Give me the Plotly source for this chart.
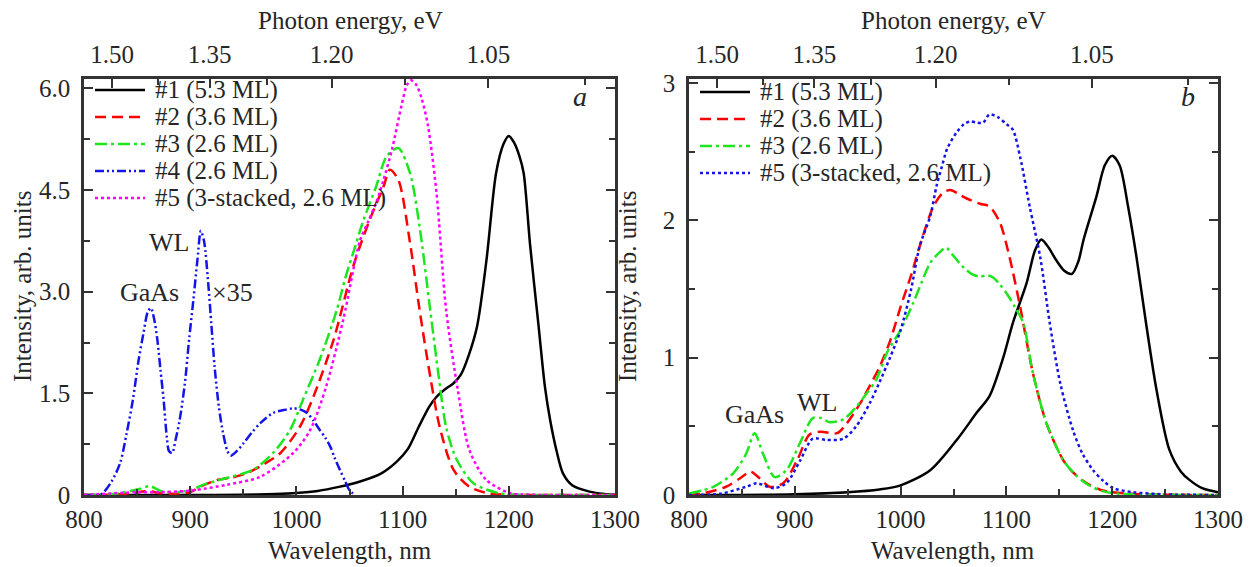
import plotly.graph_objects as go

# ---------------- data: panel a ----------------
a1_wl = [800, 850, 900, 950, 980, 1000, 1020, 1040, 1060, 1080, 1095, 1105, 1115, 1125, 1132, 1140, 1148, 1155,
         1162, 1170, 1179, 1188, 1195, 1200, 1205, 1210, 1214, 1220, 1228, 1234, 1239, 1245, 1251, 1260, 1276, 1290, 1300]
a1_int = [0, 0, 0, 0.005, 0.015, 0.03, 0.06, 0.12, 0.2, 0.32, 0.5, 0.68, 1.0, 1.3, 1.45, 1.56, 1.65, 1.78,
          2.05, 2.48, 3.47, 4.75, 5.18, 5.3, 5.2, 5.0, 4.75, 3.7, 2.5, 1.6, 1.1, 0.65, 0.32, 0.14, 0.05, 0.015, 0.005]

a2_wl = [800, 820, 840, 855, 862, 870, 885, 900, 909, 925, 940, 953, 970, 985, 1003, 1016, 1035, 1054, 1069, 1082,
         1088, 1096, 1107, 1116, 1126, 1135, 1148, 1163, 1182, 1200, 1300]
a2_int = [0, 0, 0.02, 0.05, 0.06, 0.03, 0.02, 0.04, 0.12, 0.22, 0.26, 0.32, 0.46, 0.62, 1.0, 1.45, 2.29, 3.4, 4.06, 4.55,
          4.8, 4.65, 3.72, 2.73, 1.75, 1.0, 0.37, 0.12, 0.02, 0.005, 0]

a3_wl = [800, 830, 850, 862, 872, 885, 900, 912, 934, 959, 978, 994, 1006, 1022, 1038, 1046, 1054, 1063, 1075, 1085,
         1096, 1107, 1116, 1126, 1134, 1141, 1151, 1167, 1190, 1210, 1300]
a3_int = [0, 0.02, 0.08, 0.13, 0.06, 0.04, 0.07, 0.15, 0.25, 0.37, 0.62, 0.96, 1.4, 2.0, 2.73, 3.2, 3.6, 4.05, 4.55, 5.0,
          5.12, 4.75, 3.96, 2.73, 1.75, 1.0, 0.52, 0.17, 0.03, 0.005, 0]

a4_wl = [800, 815, 818, 826, 834, 840, 846, 851, 856, 860, 863, 866, 869, 872, 875, 878, 880, 883, 886, 890, 895, 899,
         903, 907, 910, 913, 917, 920, 923, 927, 931, 935, 938, 944, 950, 958, 966, 978, 990, 997, 1004, 1010, 1016,
         1022, 1027, 1032, 1036, 1041, 1046, 1050, 1055]
a4_int = [0, 0, 0.03, 0.2, 0.47, 0.9, 1.4, 1.95, 2.39, 2.7, 2.76, 2.6, 2.3, 1.85, 1.4, 0.85, 0.65, 0.62, 0.8, 1.1, 1.65,
          2.3, 2.88, 3.5, 3.9, 3.75, 3.12, 2.5, 1.89, 1.3, 0.91, 0.65, 0.58, 0.65, 0.76, 0.92, 1.06, 1.21, 1.26, 1.28,
          1.26, 1.21, 1.1, 0.96, 0.85, 0.71, 0.55, 0.37, 0.2, 0.07, 0]

a5_wl = [800, 848, 870, 903, 934, 966, 997, 1013, 1028, 1044, 1060, 1068, 1076, 1082, 1090, 1099, 1104, 1108, 1113,
         1118, 1124, 1132, 1141, 1152, 1163, 1179, 1201, 1220, 1300]
a5_int = [0, 0.04, 0.04, 0.07, 0.15, 0.27, 0.62, 0.96, 1.6, 2.58, 3.76, 4.05, 4.35, 4.65, 5.1, 5.75, 6.05, 6.12, 6.05,
          5.85, 5.44, 4.45, 2.73, 1.55, 0.66, 0.22, 0.03, 0.005, 0]

# ---------------- data: panel b ----------------
b1_wl = [800, 850, 900, 950, 980, 1000, 1028, 1053, 1072, 1084, 1097, 1106, 1119, 1127, 1133, 1140, 1147, 1155, 1162,
         1168, 1173, 1185, 1193, 1200, 1207, 1215, 1223, 1232, 1242, 1254, 1265, 1273, 1285, 1300]
b1_int = [0, 0, 0.005, 0.02, 0.04, 0.07, 0.18, 0.4, 0.6, 0.72, 1.0, 1.25, 1.54, 1.78, 1.86, 1.8, 1.71, 1.63, 1.61,
          1.7, 1.86, 2.17, 2.4, 2.47, 2.4, 2.1, 1.73, 1.25, 0.76, 0.33, 0.17, 0.11, 0.05, 0.02]

b2_wl = [800, 812, 835, 848, 858, 867, 876, 889, 902, 914, 924, 940, 949, 962, 974, 980, 990, 1000, 1010, 1018, 1031,
         1040, 1047, 1055, 1062, 1075, 1084, 1094, 1103, 1113, 1125, 1138, 1154, 1165, 1176, 1188, 1200, 1230, 1300]
b2_int = [0, 0.01, 0.06, 0.12, 0.17, 0.12, 0.06, 0.085, 0.25, 0.44, 0.46, 0.45, 0.52, 0.67, 0.84, 0.93, 1.12, 1.37,
          1.6, 1.81, 2.1, 2.2, 2.22, 2.19, 2.16, 2.12, 2.1, 1.98, 1.73, 1.37, 0.89, 0.52, 0.25, 0.15, 0.085, 0.04,
          0.02, 0.005, 0]

b3_wl = [800, 823, 842, 854, 862, 870, 881, 892, 905, 917, 925, 933, 946, 958, 968, 977, 988, 1000, 1012, 1020, 1028,
         1036, 1043, 1050, 1059, 1067, 1075, 1082, 1088, 1094, 1100, 1108, 1116, 1125, 1138, 1154, 1165, 1176, 1190,
         1205, 1300]
b3_int = [0.01, 0.06, 0.16, 0.3, 0.45, 0.3, 0.13, 0.18, 0.38, 0.56, 0.56, 0.53, 0.55, 0.64, 0.74, 0.84, 1.05, 1.2,
          1.4, 1.55, 1.69, 1.76, 1.8, 1.74, 1.66, 1.61, 1.59, 1.6, 1.58, 1.53, 1.47, 1.37, 1.25, 0.89, 0.52, 0.25,
          0.15, 0.08, 0.03, 0.01, 0]

b5_wl = [800, 830, 854, 864, 880, 892, 905, 917, 930, 946, 958, 971, 980, 990, 1000, 1010, 1018, 1028, 1034, 1039,
         1044, 1053, 1060, 1066, 1072, 1078, 1084, 1092, 1100, 1106, 1113, 1122, 1132, 1141, 1151, 1163, 1172, 1182,
         1192, 1201, 1220, 1250, 1300]
b5_int = [0, 0.01, 0.06, 0.085, 0.05, 0.085, 0.25, 0.41, 0.4, 0.41, 0.5, 0.67, 0.82, 1.0, 1.2, 1.5, 1.81, 2.03, 2.25,
          2.39, 2.52, 2.64, 2.7, 2.72, 2.71, 2.71, 2.77, 2.75, 2.7, 2.66, 2.46, 2.1, 1.73, 1.25, 0.81, 0.47, 0.3, 0.18,
          0.1, 0.05, 0.02, 0.005, 0]

# ---------------- labels / ticks ----------------
legend_a = ["#1 (5.3 ML)", "#2 (3.6 ML)", "#3 (2.6 ML)", "#4 (2.6 ML)", "#5 (3-stacked, 2.6 ML)"]
legend_b = ["#1 (5.3 ML)", "#2 (3.6 ML)", "#3 (2.6 ML)", "#5 (3-stacked, 2.6 ML)"]
wl_ticks = [800, 900, 1000, 1100, 1200, 1300]
energy_major = [1.50, 1.35, 1.20, 1.05]
energy_labels = ["1.50", "1.35", "1.20", "1.05"]
energy_minor = [1.425, 1.275, 1.125, 0.975]
ya_ticks = [0, 1.5, 3.0, 4.5, 6.0]
ya_text = ["0", "1.5", "3.0", "4.5", "6.0"]
yb_ticks = [0, 1, 2, 3]
yb_text = ["0", "1", "2", "3"]

HC = 1239.84
W, H = 1249, 567
FONT = "Liberation Serif, Times New Roman, serif"
TXT = "#262626"
FS = 25      # tick labels, axis titles, legend
FSL = 26     # in-plot peak labels

BLACK, RED, GREEN, BLUE, MAG = "#000000", "#ff0000", "#1ee61e", "#1414e6", "#ff00ff"
DASH = {"solid": "solid", "dash": "11px,6px", "dashdot": "12px,4px,3px,4px",
        "dashdotdot": "9px,3px,2px,3px,2px,3px", "dot": "3px,3px"}
LW = 2.5

def px(x):
    return x / W

def py(y):
    return 1 - y / H

fig = go.Figure()

series_a = [(a1_wl, a1_int, BLACK, "solid"), (a2_wl, a2_int, RED, "dash"), (a3_wl, a3_int, GREEN, "dashdot"),
            (a4_wl, a4_int, BLUE, "dashdotdot"), (a5_wl, a5_int, MAG, "dot")]
series_b = [(b1_wl, b1_int, BLACK, "solid"), (b2_wl, b2_int, RED, "dash"), (b3_wl, b3_int, GREEN, "dashdot"),
            (b5_wl, b5_int, BLUE, "dot")]

for (x, y, c, d), name in zip(series_a, legend_a):
    fig.add_trace(go.Scatter(x=x, y=y, mode="lines", name=name, xaxis="x", yaxis="y",
                             line=dict(color=c, width=LW, dash=DASH[d], shape="spline", smoothing=0.8),
                             showlegend=False))
for (x, y, c, d), name in zip(series_b, legend_b):
    fig.add_trace(go.Scatter(x=x, y=y, mode="lines", name=name, xaxis="x2", yaxis="y2",
                             line=dict(color=c, width=LW, dash=DASH[d], shape="spline", smoothing=0.8),
                             showlegend=False))
# invisible traces so that the top (energy) axes are drawn
fig.add_trace(go.Scatter(x=[800], y=[0], xaxis="x3", yaxis="y", mode="markers", marker=dict(opacity=0),
                         showlegend=False, hoverinfo="skip"))
fig.add_trace(go.Scatter(x=[800], y=[0], xaxis="x4", yaxis="y2", mode="markers", marker=dict(opacity=0),
                         showlegend=False, hoverinfo="skip"))

dom_a = [px(84), px(615)]
dom_b = [px(689), px(1218)]
dom_y = [py(495), py(79)]
tickfont = dict(family=FONT, size=FS, color=TXT)
axline = dict(showline=True, linewidth=2.6, linecolor="#333333", showgrid=False, zeroline=False, automargin=False,
              ticks="inside", ticklen=9, tickwidth=1.6, tickcolor="#333333", tickfont=tickfont)

def bottom_axis(dom, anchor):
    return dict(domain=dom, anchor=anchor, range=[800, 1300], tickmode="array", tickvals=wl_ticks,
                minor=dict(tickmode="array", tickvals=[850, 950, 1050, 1150, 1250], ticks="inside", ticklen=6,
                           tickwidth=1.6, tickcolor="#333333"),
                **axline)

def top_axis(over, anchor):
    return dict(overlaying=over, anchor=anchor, side="top", range=[800, 1300], tickmode="array",
                tickvals=[HC / e for e in energy_major], ticktext=energy_labels, ticklabelstandoff=3,
                minor=dict(tickmode="array", tickvals=[HC / e for e in energy_minor], ticks="inside", ticklen=6,
                           tickwidth=1.6, tickcolor="#333333"),
                **axline)

def left_axis(dom, anchor, rng, tv, tt, minor_dt):
    return dict(domain=dom, anchor=anchor, range=rng, tickmode="array", tickvals=tv, ticktext=tt, mirror="ticks",
                ticklabelstandoff=6,
                minor=dict(dtick=minor_dt, tick0=0, ticks="inside", ticklen=6, tickwidth=1.6, tickcolor="#333333"),
                **axline)

fig.update_layout(
    width=W, height=H, margin=dict(l=0, r=0, t=0, b=0, autoexpand=False),
    paper_bgcolor="white", plot_bgcolor="white",
    xaxis=bottom_axis(dom_a, "y"),
    xaxis2=bottom_axis(dom_b, "y2"),
    xaxis3=top_axis("x", "y"),
    xaxis4=top_axis("x2", "y2"),
    yaxis=left_axis(dom_y, "x", [0, 6.14], ya_ticks, ya_text, 0.75),
    yaxis2=left_axis(dom_y, "x2", [0, 3.028], yb_ticks, yb_text, 0.5),
)

ann = []
shapes = []

def text(x, y, s, size=FS, anchor="center", italic=False, angle=0):
    ann.append(dict(x=px(x), y=py(y), xref="paper", yref="paper", text=(f"<i>{s}</i>" if italic else s),
                    showarrow=False, xanchor=anchor, yanchor="middle", textangle=angle,
                    font=dict(family=FONT, size=size, color=TXT)))

# axis titles
text(350, 550, "Wavelength, nm")
text(953, 550, "Wavelength, nm")
text(350, 20, "Photon energy, eV")
text(953, 20, "Photon energy, eV")
text(22, 287, "Intensity, arb. units", angle=-90)
text(627, 287, "Intensity, arb. units", angle=-90)

# panel letters
text(580, 97, "a", size=28, italic=True)
text(1188, 97, "b", size=28, italic=True)

# peak labels
text(149, 292, "GaAs", size=FSL)
text(169, 242, "WL", size=FSL)
text(232, 292, "×35", size=FSL)
text(754, 414, "GaAs", size=FSL)
text(817, 402, "WL", size=FSL)

# manual legends
rows_a = [90, 117, 144, 171, 198]
for (x, y, c, d), name, ry in zip(series_a, legend_a, rows_a):
    shapes.append(dict(type="line", xref="paper", yref="paper", x0=px(95), x1=px(145), y0=py(ry), y1=py(ry),
                       line=dict(color=c, width=LW, dash=DASH[d])))
    text(153, ry, name, size=FS, anchor="left")
rows_b = [92, 119, 146, 173]
for (x, y, c, d), name, ry in zip(series_b, legend_b, rows_b):
    shapes.append(dict(type="line", xref="paper", yref="paper", x0=px(700), x1=px(750), y0=py(ry), y1=py(ry),
                       line=dict(color=c, width=LW, dash=DASH[d])))
    text(758, ry, name, size=FS, anchor="left")

fig.update_layout(annotations=ann, shapes=shapes)
fig.write_html("out.html", config={"displayModeBar": False},
               post_script="document.body.style.margin='0px';document.body.style.overflow='hidden';")
